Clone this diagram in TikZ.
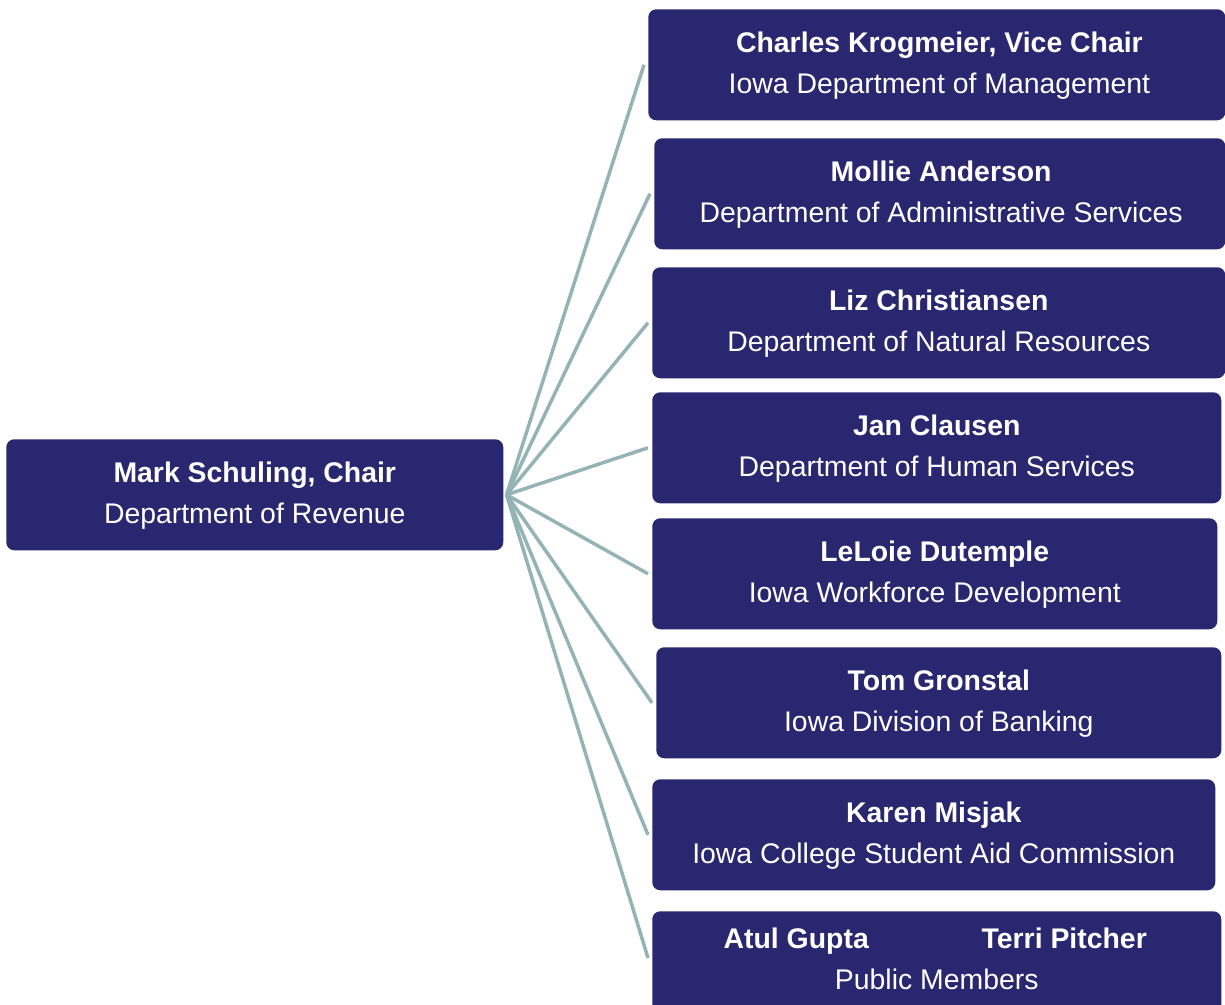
\documentclass[tikz,border=0pt]{standalone}
\usepackage{fontspec}
\setmainfont{Liberation Sans}
\definecolor{boxblue}{RGB}{41,39,112}
\definecolor{linkgray}{RGB}{147,179,181}
\begin{document}
\begin{tikzpicture}[x=0.75pt,y=-0.75pt,
  card/.style={draw=none, fill=boxblue, rounded corners=6pt, anchor=north west,
    minimum height=83.25pt, inner sep=0pt},
  namet/.style={anchor=base, text=white, inner sep=0pt,
    font=\fontsize{21.3}{25}\selectfont\bfseries},
  dept/.style={anchor=base, text=white, inner sep=0pt,
    font=\fontsize{21.3}{25}\selectfont},
  link/.style={draw=linkgray, line width=2.6pt}]
\clip (0,0) rectangle (1225,1004);
% boxes
\node[card, minimum width=372.75pt] (chair) at (6,439) {};
\node[card, minimum width=432.75pt] (b1) at (648,9) {};
\node[card, minimum width=428.25pt] (b2) at (654,138) {};
\node[card, minimum width=429.75pt] (b3) at (652,267) {};
\node[card, minimum width=426.75pt] (b4) at (652,392) {};
\node[card, minimum width=423.75pt] (b5) at (652,518) {};
\node[card, minimum width=423.75pt] (b6) at (656,647) {};
\node[card, minimum width=422.25pt] (b7) at (652,779) {};
\node[card, minimum width=426.75pt] (b8) at (652,911) {};
% texts
\node[namet] (chairn) at ([yshift=-32.25pt]chair.north) {Mark Schuling, Chair};
\node[dept]  (chaird) at ([yshift=-63pt]chair.north) {Department of Revenue};
\node[namet] (n1) at ([xshift=2pt,yshift=-32.25pt]b1.north) {Charles Krogmeier, Vice Chair};
\node[dept]  (d1) at ([xshift=2pt,yshift=-63pt]b1.north) {Iowa Department of Management};
\node[namet] (n2) at ([xshift=1pt,yshift=-32.25pt]b2.north) {Mollie Anderson};
\node[dept]  (d2) at ([xshift=1pt,yshift=-63pt]b2.north) {Department of Administrative Services};
\node[namet] (n3) at ([yshift=-32.25pt]b3.north) {Liz Christiansen};
\node[dept]  (d3) at ([yshift=-63pt]b3.north) {Department of Natural Resources};
\node[namet] (n4) at ([yshift=-32.25pt]b4.north) {Jan Clausen};
\node[dept]  (d4) at ([yshift=-63pt]b4.north) {Department of Human Services};
\node[namet] (n5) at ([yshift=-32.25pt]b5.north) {LeLoie Dutemple};
\node[dept]  (d5) at ([yshift=-63pt]b5.north) {Iowa Workforce Development};
\node[namet] (n6) at ([yshift=-32.25pt]b6.north) {Tom Gronstal};
\node[dept]  (d6) at ([yshift=-63pt]b6.north) {Iowa Division of Banking};
\node[namet] (n7) at ([yshift=-32.25pt]b7.north) {Karen Misjak};
\node[dept]  (d7) at ([yshift=-63pt]b7.north) {Iowa College Student Aid Commission};
\node[namet] (n8a) at ([xshift=-105.4pt,yshift=-27.75pt]b8.north) {Atul Gupta};
\node[namet] (n8b) at ([xshift=95.6pt,yshift=-27.75pt]b8.north) {Terri Pitcher};
\node[dept]  (d8) at ([yshift=-58.5pt]b8.north) {Public Members};
% connectors
\coordinate (hub) at ([xshift=2.25pt]chair.east);
\coordinate (e8) at (648,958);
\draw[link] (hub) -- ([xshift=-3pt]b1.west);
\draw[link] (hub) -- ([xshift=-3pt]b2.west);
\draw[link] (hub) -- ([xshift=-3pt]b3.west);
\draw[link] (hub) -- ([xshift=-3pt]b4.west);
\draw[link] (hub) -- ([xshift=-3pt]b5.west);
\draw[link] (hub) -- ([xshift=-3pt]b6.west);
\draw[link] (hub) -- ([xshift=-3pt]b7.west);
\draw[link] (hub) -- (e8);
\end{tikzpicture}
\end{document}
